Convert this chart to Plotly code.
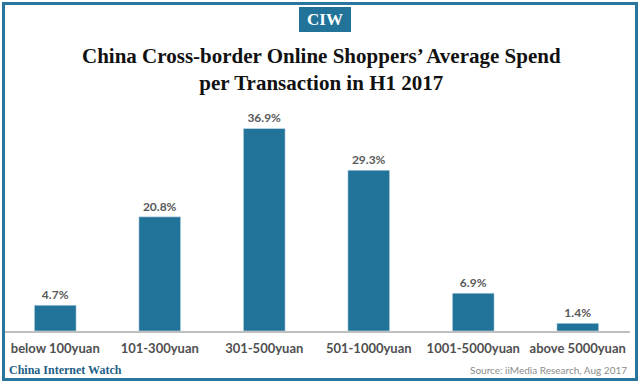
import plotly.graph_objects as go

categories = ["below 100yuan", "101-300yuan", "301-500yuan", "501-1000yuan", "1001-5000yuan", "above 5000yuan"]
values = [4.7, 20.8, 36.9, 29.3, 6.9, 1.4]

W, H = 640, 383
L, R, T, B = 3, 10, 84, 52
PW, PH = W - L - R, H - T - B

def px(x):
    return (x - L) / PW

def py(y):
    return (H - B - y) / PH

BAR = "#22739A"

fig = go.Figure(go.Bar(
    x=categories, y=values, marker_color=BAR, width=0.4,
    text=[f"{v}%" for v in values], textposition="outside",
    textfont=dict(family="Lato", size=12, color="#595959", weight="bold"),
    cliponaxis=False, hoverinfo="skip",
))

fig.update_layout(
    width=W, height=H, margin=dict(l=L, r=R, t=T, b=B),
    paper_bgcolor="white", plot_bgcolor="white", showlegend=False,
    xaxis=dict(showline=True, linecolor="#BFBFBF", linewidth=1.5, ticks="", ticklabelstandoff=5,
               tickfont=dict(family="Lato", size=13, color="#505050", weight="bold"),
               showgrid=False, fixedrange=True),
    yaxis=dict(range=[0, 45], visible=False, showgrid=False, fixedrange=True),
    shapes=[
        dict(type="rect", xref="paper", yref="paper", x0=px(3.5), x1=px(636.5), y0=py(379.5), y1=py(3.5),
             line=dict(color="#2A76A0", width=3), fillcolor="rgba(0,0,0,0)", layer="above"),
        dict(type="rect", xref="paper", yref="paper", x0=px(299), x1=px(351), y0=py(32), y1=py(7),
             line=dict(width=0), fillcolor="#22739A"),
    ],
    annotations=[
        dict(text="<b>CIW</b>", xref="paper", yref="paper", x=px(325), y=py(19.5), showarrow=False,
             font=dict(family="Liberation Serif", size=17, color="white"), xanchor="center", yanchor="middle"),
        dict(text="<b>China Cross-border Online Shoppers’ Average Spend<br>per Transaction in H1 2017</b>",
             xref="paper", yref="paper", x=px(321), y=py(69), showarrow=False,
             font=dict(family="Liberation Serif", size=21, color="#111111"), xanchor="center", yanchor="middle",
             align="center"),
        dict(text="<b>China Internet Watch</b>", xref="paper", yref="paper", x=px(7), y=py(370), showarrow=False,
             font=dict(family="Liberation Serif", size=12, color="#1F5F86"), xanchor="left", yanchor="middle"),
        dict(text="Source: iiMedia Research, Aug 2017", xref="paper", yref="paper", x=px(629), y=py(370),
             showarrow=False, font=dict(family="Lato", size=10, color="#8C8C8C"), xanchor="right", yanchor="middle"),
    ],
)

fig.write_html("out.html", config={"displayModeBar": False, "staticPlot": True},
               post_script="document.body.style.margin='0';document.body.style.overflow='hidden';")
